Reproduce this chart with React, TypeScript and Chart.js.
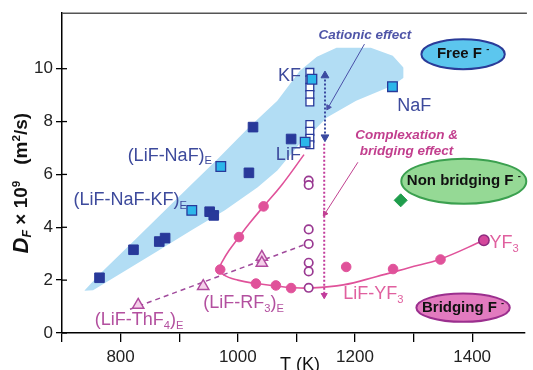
import React, { useEffect, useRef } from 'react';
import { Chart, registerables } from 'chart.js';

Chart.register(...registerables);

// ---------- axis ticks ----------
const X_TICKS = [700, 800, 900, 1000, 1100, 1200, 1300, 1400];
const X_LABELS = [800, 1000, 1200, 1400];
const Y_TICKS = [0, 2, 4, 6, 8, 10];

// ---------- data (T in K, D_F x 1e9 m2/s) ----------
const navySquares = [
  [764, 2.09], [822, 3.15], [866, 3.46], [876, 3.59], [952, 4.59], [959, 4.45],
  [1019, 6.06], [1026, 7.79], [1091, 7.34],
];
const cyanSquares = [
  [971, 6.3], [921.5, 4.64], [1115, 7.22], [1126.5, 9.6], [1264, 9.32],
];
const openSquaresT = 1123;
const openSquaresD = [9.86, 9.58, 9.3, 9.02, 8.74, 7.89, 7.63, 7.37, 7.12];
const openCirclesT = 1121;
const openCirclesD = [5.77, 5.6, 3.92, 3.37, 2.66, 2.33, 1.71];
const pinkCircles = [
  [1044, 4.79], [1002, 3.63], [970, 2.4], [1031, 1.87], [1065, 1.8], [1091, 1.7],
  [1185, 2.5], [1265, 2.42], [1346, 2.78],
];
const yf3Point = [[1420, 3.51]];
const triangles = [[830, 1.06], [941, 1.77], [1041, 2.88], [1041, 2.65]];
const diamond = [[1278, 5.02]];

// LiF-YF3 fitted curve
const lifYf3Curve = [
  [1113, 6.75], [1075, 5.6], [1044, 4.79], [1020, 4.15], [1002, 3.63], [985, 3.12],
  [974, 2.72], [969, 2.45], [976, 2.2], [1000, 2.0], [1031, 1.87], [1065, 1.78],
  [1091, 1.72], [1122, 1.7], [1180, 1.82], [1236, 2.13], [1292, 2.47], [1346, 2.8],
  [1420, 3.51],
];
// dashed (LiF-ThF4)E -> (LiF-RF3)E line
const eutecticLine = [[816, 0.9], [1115, 3.35]];

// light blue band (upper and lower edges)
const bandUpper = [
  [738, 1.6], [764.5, 2.23], [815, 3.32], [865.5, 4.42], [916, 5.51], [966.5, 6.6],
  [1017, 7.74], [1067.5, 8.79], [1106, 9.92], [1135, 10.45], [1168.5, 10.79],
  [1227, 10.79], [1264.5, 10.49], [1283, 10.04],
];
const bandLower = [
  [738, 1.6], [753, 1.62], [810, 2.38], [865.5, 3.13], [921, 3.89], [978, 4.64],
  [1034, 5.51], [1067.5, 6.15], [1106, 7.17], [1130, 7.66], [1152, 8.15],
  [1202, 8.79], [1264.5, 9.36], [1283, 9.66],
];

// arrows
const cationicArrow = [[1148.8, 9.74], [1148.8, 7.41]];
const bridgingArrow = [[1147.5, 7.16], [1147.5, 1.43]];
const cationicPointer = [[1216.2, 10.93], [1154.5, 8.54]];
const complexPointer = [[1205, 6.46], [1148.8, 4.52]];

// ---------- styles ----------
const FONT = '"Liberation Sans", Arial, Helvetica, sans-serif';
const NAVY = '#28399a';
const CYAN = '#2cb6ea';
const BAND = '#b2ddf4';
const PINK = '#e0529a';
const PURPLE = '#9a3a92';
const NAVY_T = '#3d4a9c';
const PURPLE_T = '#b3509f';
const PINK_T = '#e0609f';

const pts = (a: number[][]) => a.map(([x, y]) => ({ x, y }));
const col = (x: number, ys: number[]) => ys.map((y) => ({ x, y }));

type Seg = { t: string; sub?: boolean; sup?: boolean; it?: boolean; b?: boolean; size?: number };

const TEXTS: { x: number; y: number; align: string; color: string; size: number; bold?: boolean; italic?: boolean; segs: Seg[] }[] = [
  { x: 1108, y: 9.74, align: 'right', color: NAVY_T, size: 18, segs: [{ t: 'KF' }] },
  { x: 1272, y: 8.6, align: 'left', color: NAVY_T, size: 18, segs: [{ t: 'NaF' }] },
  { x: 1065, y: 6.75, align: 'left', color: NAVY_T, size: 18, segs: [{ t: 'LiF' }] },
  { x: 812, y: 6.7, align: 'left', color: NAVY_T, size: 18, segs: [{ t: '(LiF-NaF)' }, { t: 'E', sub: true }] },
  { x: 719.5, y: 5.02, align: 'left', color: NAVY_T, size: 18, segs: [{ t: '(LiF-NaF-KF)' }, { t: 'E', sub: true }] },
  { x: 941, y: 1.13, align: 'left', color: PURPLE_T, size: 18, segs: [{ t: '(LiF-RF' }, { t: '3', sub: true }, { t: ')' }, { t: 'E', sub: true }] },
  { x: 756, y: 0.49, align: 'left', color: PURPLE_T, size: 18, segs: [{ t: '(LiF-ThF' }, { t: '4', sub: true }, { t: ')' }, { t: 'E', sub: true }] },
  { x: 1180, y: 1.47, align: 'left', color: PINK_T, size: 18, segs: [{ t: 'LiF-YF' }, { t: '3', sub: true }] },
  { x: 1429.5, y: 3.4, align: 'left', color: PINK_T, size: 18, segs: [{ t: 'YF' }, { t: '3', sub: true }] },
  { x: 1217, y: 11.28, align: 'center', color: '#4f55a8', size: 13.5, bold: true, italic: true, segs: [{ t: 'Cationic effect' }] },
  { x: 1288, y: 7.47, align: 'center', color: '#c23f8e', size: 13.5, bold: true, italic: true, segs: [{ t: 'Complexation &' }] },
  { x: 1288, y: 6.87, align: 'center', color: '#c23f8e', size: 13.5, bold: true, italic: true, segs: [{ t: 'bridging effect' }] },
];

const ELLIPSES = [
  { x: 1384.5, y: 10.55, rx: 41.7, ry: 15, fill: '#5cc6ee', stroke: '#2a3b98', size: 15, segs: [{ t: 'Free F ' }, { t: '-', sup: true }] },
  { x: 1385.7, y: 5.74, rx: 62.5, ry: 22.5, fill: '#95d995', stroke: '#3ba04f', size: 15, segs: [{ t: 'Non bridging F ' }, { t: '-', sup: true }] },
  { x: 1384.5, y: 0.96, rx: 46.7, ry: 14.2, fill: '#e27bbf', stroke: '#9b2f8e', size: 15, segs: [{ t: 'Bridging F ' }, { t: '-', sup: true }] },
];

function segFont(s: Seg, size: number, bold: boolean, italic: boolean) {
  const base = s.size ?? size;
  const sz = s.sub || s.sup ? base * 0.62 : base;
  const b = s.b ?? bold;
  const i = s.it ?? italic;
  return `${i ? 'italic ' : ''}${b ? 'bold ' : ''}${sz}px ${FONT}`;
}

function drawRich(ctx: CanvasRenderingContext2D, segs: Seg[], x: number, y: number, align: string, size: number, color: string, bold = false, italic = false) {
  ctx.save();
  ctx.fillStyle = color;
  ctx.textBaseline = 'middle';
  ctx.textAlign = 'left';
  let w = 0;
  for (const s of segs) {
    ctx.font = segFont(s, size, bold, italic);
    w += ctx.measureText(s.t).width;
  }
  let cx = align === 'left' ? x : align === 'right' ? x - w : x - w / 2;
  for (const s of segs) {
    ctx.font = segFont(s, size, bold, italic);
    const base = s.size ?? size;
    const dy = s.sub ? base * 0.3 : s.sup ? -base * 0.3 : 0;
    ctx.fillText(s.t, cx, y + dy);
    cx += ctx.measureText(s.t).width;
  }
  ctx.restore();
}

const decorPlugin = {
  id: 'decor',
  afterDatasetsDraw(chart: any) {
    const ctx: CanvasRenderingContext2D = chart.ctx;
    const xs = chart.scales.x;
    const ys = chart.scales.y;
    const { left, right, top } = chart.chartArea;
    ctx.save();
    // top frame line
    ctx.strokeStyle = '#555';
    ctx.lineWidth = 1.5;
    ctx.beginPath();
    ctx.moveTo(left, top);
    ctx.lineTo(right + 2, top);
    ctx.stroke();
    // inner y ticks
    ctx.strokeStyle = '#000';
    ctx.lineWidth = 1.3;
    for (const v of Y_TICKS) {
      const py = ys.getPixelForValue(v);
      ctx.beginPath();
      ctx.moveTo(left, py);
      ctx.lineTo(left + 5, py);
      ctx.stroke();
    }
    // ellipses
    for (const e of ELLIPSES) {
      const px = xs.getPixelForValue(e.x);
      const py = ys.getPixelForValue(e.y);
      ctx.beginPath();
      ctx.ellipse(px, py, e.rx, e.ry, 0, 0, Math.PI * 2);
      ctx.fillStyle = e.fill;
      ctx.fill();
      ctx.lineWidth = 2;
      ctx.strokeStyle = e.stroke;
      ctx.stroke();
      drawRich(ctx, e.segs, px, py, 'center', e.size, '#111', true, false);
    }
    // labels
    for (const t of TEXTS) {
      drawRich(ctx, t.segs, xs.getPixelForValue(t.x), ys.getPixelForValue(t.y), t.align, t.size, t.color, !!t.bold, !!t.italic);
    }
    // axis titles
    ctx.save();
    ctx.translate(22, (ys.getPixelForValue(0) + ys.getPixelForValue(12.1)) / 2 + 10);
    ctx.rotate(-Math.PI / 2);
    drawRich(ctx, [
      { t: 'D', it: true, size: 22 },
      { t: 'F', it: true, sub: true, size: 20 },
      { t: ' × 10' },
      { t: '9', sup: true },
      { t: '   (m' },
      { t: '2', sup: true },
      { t: '/s)' },
    ], 0, 0, 'center', 19, '#111', true, false);
    ctx.restore();
    ctx.fillStyle = '#111';
    ctx.font = `18px ${FONT}`;
    ctx.textAlign = 'center';
    ctx.textBaseline = 'alphabetic';
    ctx.fillText('T (K)', 300, 370);
    ctx.restore();
  },
};

export default function App() {
  const ref = useRef<HTMLCanvasElement>(null);
  useEffect(() => {
    Chart.defaults.font.family = FONT;
    const chart = new Chart(ref.current as HTMLCanvasElement, {
      type: 'scatter',
      data: {
        datasets: [
          { data: pts(bandUpper), showLine: true, borderColor: 'transparent', borderWidth: 0, pointRadius: 0, fill: '+1', backgroundColor: BAND, order: 30 } as any,
          { data: pts(bandLower), showLine: true, borderColor: 'transparent', borderWidth: 0, pointRadius: 0, fill: false, order: 29 } as any,
          { data: pts(lifYf3Curve), showLine: true, borderColor: PINK, borderWidth: 1.6, pointRadius: 0, tension: 0.4, order: 10 } as any,
          { data: pts(eutecticLine), showLine: true, borderColor: '#a04a9c', borderWidth: 1.5, borderDash: [5, 4], pointRadius: 0, order: 10 } as any,
          { data: pts(cationicArrow), showLine: true, borderColor: '#3a4aa0', borderWidth: 2, borderDash: [2, 2], pointStyle: 'triangle', pointRadius: 4.5, pointRotation: [0, 180], pointBackgroundColor: '#3a4aa0', pointBorderColor: '#3a4aa0', pointBorderWidth: 1, order: 9 } as any,
          { data: pts(bridgingArrow), showLine: true, borderColor: '#c23c9c', borderWidth: 2, borderDash: [2, 2], pointStyle: 'triangle', pointRadius: [0, 3.5], pointRotation: 180, pointBackgroundColor: '#c23c9c', pointBorderColor: '#c23c9c', pointBorderWidth: 1, order: 9 } as any,
          { data: pts(cationicPointer), showLine: true, borderColor: '#4a50a8', borderWidth: 1, pointStyle: 'triangle', pointRadius: [0, 3], pointRotation: 210, pointBackgroundColor: '#4a50a8', pointBorderColor: '#4a50a8', pointBorderWidth: 1, order: 9 } as any,
          { data: pts(complexPointer), showLine: true, borderColor: '#c0408f', borderWidth: 1, pointStyle: 'triangle', pointRadius: [0, 3], pointRotation: 214, pointBackgroundColor: '#c0408f', pointBorderColor: '#c0408f', pointBorderWidth: 1, order: 9 } as any,
          { data: col(openCirclesT, openCirclesD), pointStyle: 'circle', pointRadius: 4.2, pointBackgroundColor: '#fff', pointBorderColor: PURPLE, pointBorderWidth: 1.7, order: 3 } as any,
          { data: col(openSquaresT, openSquaresD), pointStyle: 'rect', pointRadius: 5.5, pointBackgroundColor: '#fff', pointBorderColor: NAVY, pointBorderWidth: 1.3, order: 3 } as any,
          { data: pts(navySquares), pointStyle: 'rect', pointRadius: 6.8, pointBackgroundColor: NAVY, pointBorderColor: NAVY, pointBorderWidth: 1, order: 2 } as any,
          { data: pts(cyanSquares), pointStyle: 'rect', pointRadius: 6.8, pointBackgroundColor: CYAN, pointBorderColor: NAVY, pointBorderWidth: 1.3, order: 1 } as any,
          { data: pts(pinkCircles), pointStyle: 'circle', pointRadius: 4.8, pointBackgroundColor: PINK, pointBorderColor: PINK, pointBorderWidth: 1, order: 2 } as any,
          { data: pts(yf3Point), pointStyle: 'circle', pointRadius: 5.2, pointBackgroundColor: '#d4479b', pointBorderColor: '#8d2a7f', pointBorderWidth: 1.5, order: 2 } as any,
          { data: pts(triangles), pointStyle: 'triangle', pointRadius: 6.5, pointBackgroundColor: '#f5d0ea', pointBorderColor: '#b14b9f', pointBorderWidth: 1.5, order: 2 } as any,
          { data: pts(diamond), pointStyle: 'rectRot', pointRadius: 6.5, pointBackgroundColor: '#1f9d4c', pointBorderColor: '#1f9d4c', pointBorderWidth: 1, order: 2 } as any,
        ],
      },
      options: {
        responsive: false,
        animation: false,
        devicePixelRatio: 1,
        events: [],
        layout: { padding: { top: 12, right: 2, left: 0, bottom: 0 } },
        plugins: { legend: { display: false }, tooltip: { enabled: false } },
        scales: {
          x: {
            type: 'linear',
            min: 700,
            max: 1490,
            afterBuildTicks: (s: any) => { s.ticks = X_TICKS.map((v) => ({ value: v })); },
            afterFit: (s: any) => { s.height = 37; },
            ticks: {
              autoSkip: false,
              maxRotation: 0,
              padding: 5,
              color: '#222',
              font: { size: 17 },
              callback: (v: any) => (X_LABELS.includes(Number(v)) ? String(v) : ''),
            },
            grid: { drawOnChartArea: false, drawTicks: true, tickLength: 9, color: '#000', lineWidth: 1.3 },
            border: { display: true, color: '#000', width: 1.5 },
          },
          y: {
            type: 'linear',
            min: 0,
            max: 12.1,
            afterBuildTicks: (s: any) => { s.ticks = Y_TICKS.map((v) => ({ value: v })); },
            afterFit: (s: any) => { s.width = 62; },
            ticks: { padding: 3, color: '#222', font: { size: 17 }, autoSkip: false },
            grid: { drawOnChartArea: false, drawTicks: true, tickLength: 6, color: '#000', lineWidth: 1.3 },
            border: { display: true, color: '#000', width: 1.5 },
          },
        },
      } as any,
      plugins: [decorPlugin],
    });
    return () => chart.destroy();
  }, []);
  return (
    <div style={{ position: 'fixed', left: 0, top: 0, width: 533, height: 370, background: '#fff' }}>
      <canvas ref={ref} width={533} height={370} style={{ display: 'block', width: 533, height: 370 }} />
    </div>
  );
}
